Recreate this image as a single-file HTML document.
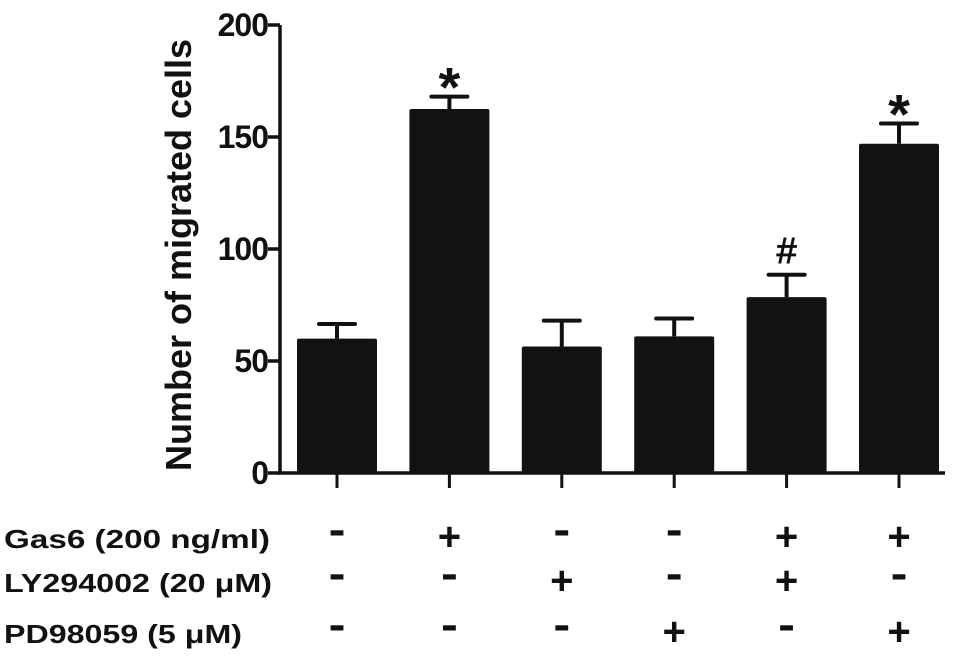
<!DOCTYPE html>
<html><head><meta charset="utf-8"><style>
body{margin:0;background:#fff;}
svg{display:block;font-family:"Liberation Sans",Arial,sans-serif;font-weight:bold;}
</style></head><body>
<svg id="chart" width="969" height="665" viewBox="0 0 969 665"></svg>
<script>
const categories=["G1","G2","G3","G4","G5","G6"];
const means=[60,162.5,56.5,61,78.5,147];
const errors=[6.5,5.5,11.5,8,10,9];
const marks=["","*","","","#","*"];
const yTicks=[0,50,100,150,200];
const gas6=["-","+","-","-","+","+"];
const ly=["-","-","+","-","+","-"];
const pd=["-","-","-","+","-","+"];
const rowLabels=["Gas6 (200 ng/ml)","LY294002 (20 μM)","PD98059 (5 μM)"];
const rowLens=[266,268,238];

const svg=document.getElementById('chart');
const NS="http://www.w3.org/2000/svg";
const y0=473,yTop=25,axX=280;
const yS=v=>y0-(v/200)*(y0-yTop);
const xS=i=>337+i*112.4;
const bw=80;
function mk(t,a){const e=document.createElementNS(NS,t);for(const k in a)e.setAttribute(k,a[k]);svg.appendChild(e);return e;}
let e;
e=mk('line',{x1:axX,y1:yTop,x2:axX,y2:y0+1.5,stroke:'#111','stroke-width':3.5});


e=mk('line',{x1:axX-2,y1:y0,x2:945,y2:y0,stroke:'#111','stroke-width':3.5});


yTicks.forEach(v=>{
 e=mk('line',{x1:axX-12,y1:yS(v),x2:axX,y2:yS(v),stroke:'#111','stroke-width':3.5});
 
 
 e=mk('text',{x:axX-12,y:yS(v)+11,'text-anchor':'end','font-size':32,fill:'#111','letter-spacing':-1});
 e.textContent=v;
 
 
});
e=mk('text',{x:0,y:0,'text-anchor':'middle','font-size':36,fill:'#111',transform:'translate(191,255) rotate(-90)'});
e.textContent='Number of migrated cells';


categories.forEach((c,i)=>{
 const cx=xS(i),top=yS(means[i]),et=yS(means[i]+errors[i]);
 e=mk('line',{x1:cx,y1:et,x2:cx,y2:top,stroke:'#111','stroke-width':4});
 
 
 e=mk('line',{x1:cx-18,y1:et,x2:cx+18,y2:et,stroke:'#111','stroke-width':4,'stroke-linecap':'round'});
 
 
 e=mk('rect',{x:cx-bw/2,y:top,width:bw,height:y0-top,fill:'#121212',rx:2});
 
 
 e=mk('line',{x1:cx,y1:y0,x2:cx,y2:y0+15,stroke:'#111','stroke-width':3});
 
 
 if(marks[i]){
  const star=marks[i]=='*';
  e=mk('text',{x:cx,y:et-(star?-10:12),'text-anchor':'middle','font-size':star?56:36,'font-weight':star?'bold':'normal',fill:'#111',stroke:star?'none':'#111','stroke-width':1});
  e.textContent=marks[i];
  
  
 }
 [gas6,ly,pd].forEach((row,r)=>{
  const minus=row[i]=='-';
  e=mk('text',{x:cx,y:[550,594,645][r]-(minus?6:0),'text-anchor':'middle','font-size':minus?44:40,fill:'#111',transform:minus?`translate(${cx} 0) scale(1.15 1) translate(${-cx} 0)`:''});
  e.textContent=minus?'-':'+';
  
  
 });
});
rowLabels.forEach((t,r)=>{
 e=mk('text',{x:4,y:[548,592,643][r],'font-size':26,fill:'#111',textLength:rowLens[r],lengthAdjust:'spacingAndGlyphs'});
 e.textContent=t;
 
 
});
</script>
</body></html>
